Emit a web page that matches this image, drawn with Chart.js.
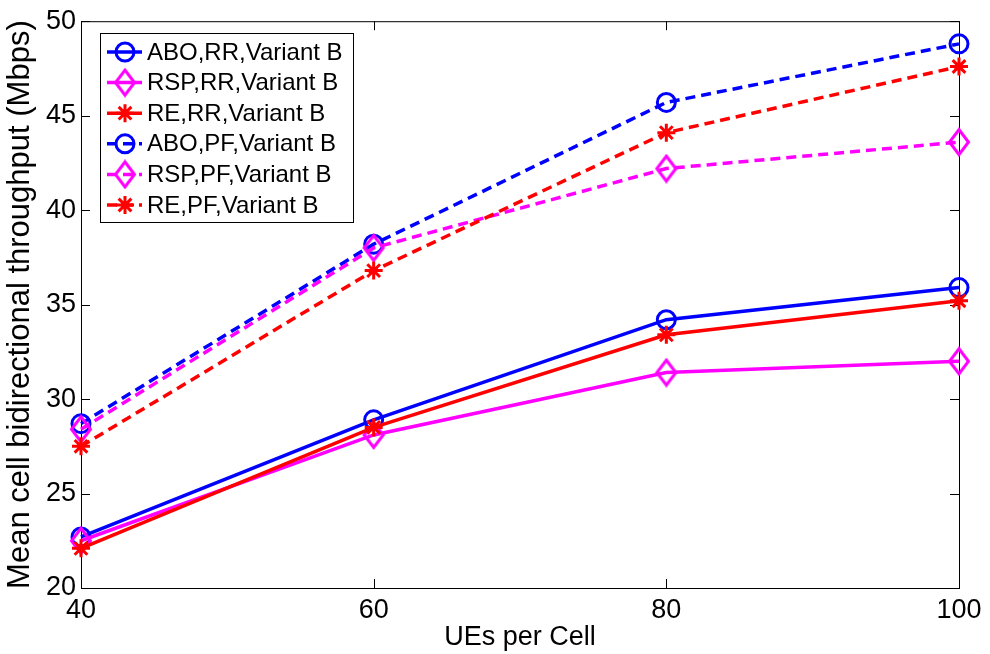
<!DOCTYPE html>
<html lang="en">
<head>
    <meta charset="UTF-8">
    <title>Mean cell bidirectional throughput</title>
    <script src="https://cdn.jsdelivr.net/npm/chart.js"></script>
    <style>
        body { margin: 0; background: #fff; }
        canvas { display: block; }
    </style>
</head>
<body>
    <canvas id="tputChart" width="990" height="654"></canvas>

    <script>
        // data
        const uesPerCell = [40, 60, 80, 100];
        const aboRR = [22.7, 28.9, 34.2, 35.9];
        const rspRR = [22.5, 28.1, 31.4, 32.0];
        const reRR  = [22.1, 28.5, 33.4, 35.2];
        const aboPF = [28.7, 38.2, 45.7, 48.8];
        const rspPF = [28.4, 38.0, 42.2, 43.6];
        const rePF  = [27.5, 36.8, 44.1, 47.6];
        const seriesNames = ['ABO,RR,Variant B', 'RSP,RR,Variant B', 'RE,RR,Variant B',
                             'ABO,PF,Variant B', 'RSP,PF,Variant B', 'RE,PF,Variant B'];
        const xTicks = [40, 60, 80, 100];
        const yTicks = [20, 25, 30, 35, 40, 45, 50];

        const FONT = "'Liberation Sans', Arial, sans-serif";
        const BLUE = '#0000ff', MAGENTA = '#ff00ff', RED = '#ff0000';

        // matlab style diamond (a bit taller than wide)
        function makeDiamond(color) {
            const c = document.createElement('canvas');
            c.width = 24; c.height = 30;
            const g = c.getContext('2d');
            g.strokeStyle = color;
            g.lineWidth = 3;
            g.beginPath();
            g.moveTo(12, 2.5);
            g.lineTo(21.5, 15);
            g.lineTo(12, 27.5);
            g.lineTo(2.5, 15);
            g.closePath();
            g.stroke();
            return c;
        }
        const diamond = makeDiamond(MAGENTA);

        function pts(vals) {
            return vals.map((v, i) => ({ x: uesPerCell[i], y: v }));
        }

        function series(i, vals, color, style, dashed) {
            return {
                label: seriesNames[i],
                data: pts(vals),
                borderColor: color,
                backgroundColor: color,
                borderWidth: 3.5,
                borderDash: dashed ? [10, 6] : [],
                pointStyle: style,
                pointRadius: 9,
                pointBorderWidth: 3,
                pointBorderColor: color,
                pointBackgroundColor: 'rgba(0,0,0,0)',
                tension: 0,
                fill: false,
                clip: false,
                order: -i
            };
        }

        // box + inward ticks like matlab
        const axesBox = {
            id: 'axesBox',
            beforeDatasetsDraw(chart) {
                const { ctx, chartArea: a, scales } = chart;
                ctx.save();
                ctx.strokeStyle = '#000';
                ctx.lineWidth = 1;
                ctx.strokeRect(a.left + 0.5, a.top + 0.5, a.right - a.left, a.bottom - a.top);
                ctx.beginPath();
                xTicks.forEach(v => {
                    const x = Math.round(scales.x.getPixelForValue(v)) + 0.5;
                    ctx.moveTo(x, a.bottom); ctx.lineTo(x, a.bottom - 9);
                    ctx.moveTo(x, a.top); ctx.lineTo(x, a.top + 9);
                });
                yTicks.forEach(v => {
                    const y = Math.round(scales.y.getPixelForValue(v)) + 0.5;
                    ctx.moveTo(a.left, y); ctx.lineTo(a.left + 9, y);
                    ctx.moveTo(a.right, y); ctx.lineTo(a.right - 9, y);
                });
                ctx.stroke();
                ctx.restore();
            }
        };

        // legend box in the upper left corner
        const boxLegend = {
            id: 'boxLegend',
            afterDraw(chart) {
                const ctx = chart.ctx;
                const bx = 100, by = 33, bw = 253, bh = 189;
                ctx.save();
                ctx.fillStyle = '#fff';
                ctx.fillRect(bx, by, bw, bh);
                ctx.strokeStyle = '#000';
                ctx.lineWidth = 1;
                ctx.strokeRect(bx + 0.5, by + 0.5, bw, bh);
                ctx.font = '24px ' + FONT;
                ctx.textBaseline = 'middle';
                chart.data.datasets.forEach((ds, i) => {
                    const y = 52 + i * 30.6;
                    ctx.strokeStyle = ds.borderColor;
                    ctx.lineWidth = 3.5;
                    ctx.setLineDash(ds.borderDash);
                    ctx.beginPath();
                    ctx.moveTo(107, y);
                    ctx.lineTo(142, y);
                    ctx.stroke();
                    ctx.setLineDash([]);
                    ctx.fillStyle = 'rgba(0,0,0,0)';
                    ctx.lineWidth = ds.pointBorderWidth;
                    Chart.helpers.drawPoint(ctx, {
                        pointStyle: ds.pointStyle,
                        radius: ds.pointRadius,
                        borderWidth: ds.pointBorderWidth,
                        rotation: 0
                    }, 125, y);
                    ctx.fillStyle = '#000';
                    ctx.fillText(ds.label, 147, y + 1);
                });
                ctx.restore();
            }
        };

        const ctx = document.getElementById('tputChart').getContext('2d');
        new Chart(ctx, {
            type: 'line',
            data: {
                datasets: [
                    series(0, aboRR, BLUE, 'circle', false),
                    series(1, rspRR, MAGENTA, diamond, false),
                    series(2, reRR, RED, 'star', false),
                    series(3, aboPF, BLUE, 'circle', true),
                    series(4, rspPF, MAGENTA, diamond, true),
                    series(5, rePF, RED, 'star', true)
                ]
            },
            options: {
                responsive: false,
                animation: false,
                devicePixelRatio: 1,
                layout: { padding: { top: 21, right: 31, left: 0, bottom: 0 } },
                plugins: {
                    legend: { display: false },
                    tooltip: { enabled: false }
                },
                scales: {
                    x: {
                        type: 'linear',
                        min: 40,
                        max: 100,
                        afterBuildTicks: s => { s.ticks = xTicks.map(v => ({ value: v })); },
                        afterFit: s => { s.height = 66; },
                        grid: { display: false, drawTicks: false },
                        border: { display: false },
                        ticks: { color: '#000', font: { family: FONT, size: 27 }, padding: 6, maxRotation: 0 },
                        title: {
                            display: true,
                            text: 'UEs per Cell',
                            color: '#000',
                            font: { family: FONT, size: 27 },
                            padding: { top: 0, bottom: 0 }
                        }
                    },
                    y: {
                        min: 20,
                        max: 50,
                        afterBuildTicks: s => { s.ticks = yTicks.map(v => ({ value: v })); },
                        afterFit: s => { s.width = 81; },
                        grid: { display: false, drawTicks: false },
                        border: { display: false },
                        ticks: { color: '#000', font: { family: FONT, size: 27 }, padding: 5 },
                        title: {
                            display: true,
                            text: 'Mean cell bidirectional throughput (Mbps)',
                            color: '#000',
                            font: { family: FONT, size: 31 },
                            padding: { top: 2, bottom: 0 }
                        }
                    }
                }
            },
            plugins: [axesBox, boxLegend]
        });
    </script>
</body>
</html>
